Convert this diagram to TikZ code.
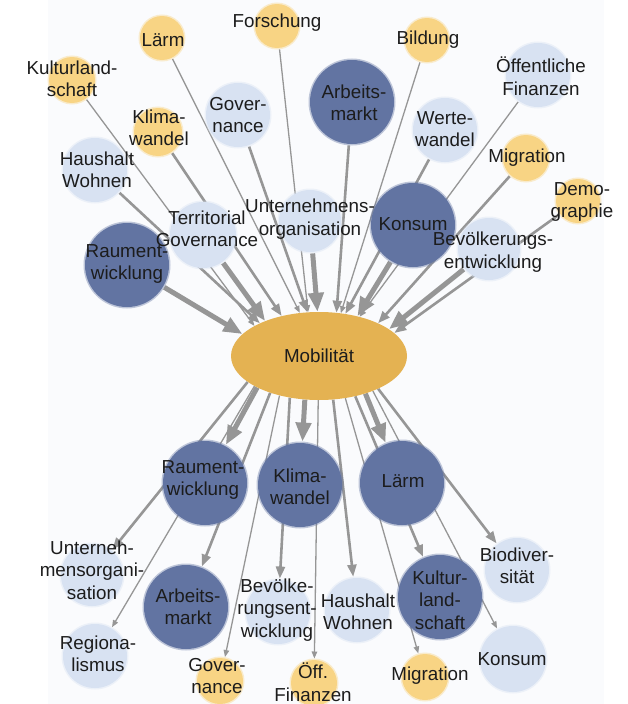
\documentclass[tikz,border=0pt]{standalone}
\usepackage{fontspec}
\setmainfont{Liberation Sans}
\usetikzlibrary{arrows.meta,shapes.geometric}

\definecolor{lnk}{RGB}{150,150,150}
\definecolor{mobgold}{RGB}{228,178,82}
\definecolor{sand}{RGB}{248,212,132}
\definecolor{navyblue}{RGB}{98,116,162}
\definecolor{mist}{RGB}{216,226,242}
\definecolor{haze}{RGB}{250,251,253}
\definecolor{ink}{RGB}{28,28,28}

\pgfdeclarelayer{bg}
\pgfdeclarelayer{links}
\pgfsetlayers{bg,links,main}

\newcommand\lblfont{\fontsize{18.8}{22.5}\selectfont}

\begin{document}
\begin{tikzpicture}[x=1pt,y=-1pt,
  bub/.style={circle, inner sep=0pt, minimum size=#1pt, line width=3pt, draw opacity=0.4},
  sandbub/.style={bub=#1, fill=sand, draw=sand},
  mistbub/.style={bub=#1, fill=mist, draw=mist},
  navybub/.style={bub=#1, fill=navyblue, draw=navyblue},
  lbl/.style={align=center, inner sep=0pt, text=ink, font=\lblfont},
  link/.style={draw=lnk, line cap=butt},
  thinlink/.style={link, line width=1.3pt, -{Triangle[length=7pt,width=5.5pt]}},
  midlink/.style={link, line width=2.6pt, -{Triangle[length=12pt,width=9pt]}},
  thicklink/.style={link, line width=5pt, -{Triangle[length=19pt,width=15pt]}}]

\useasboundingbox (0,0) rectangle (628,704);
\begin{pgfonlayer}{bg}
  \fill[haze] (48,0) rectangle (604,704);
\end{pgfonlayer}

% central node
\node[ellipse, fill=mobgold, minimum width=176pt, minimum height=88pt, inner sep=0pt,
      text=ink, font=\lblfont] (mob) at (319,356) {Mobilität};

% influences (upper half)
\node[sandbub=46] (tKult)  at (72,80)   {};
\node[sandbub=44] (tLaerm) at (162,38)  {};
\node[sandbub=44] (tForsch) at (277,26) {};
\node[sandbub=44] (tBild)  at (427,40)  {};
\node[sandbub=48] (tKlima) at (158,132) {};
\node[mistbub=64] (tGov)   at (238,115) {};
\node[navybub=84] (tArb)   at (352,102) {};
\node[mistbub=64] (tWerte) at (445,130) {};
\node[mistbub=64] (tFin)   at (538,75)  {};
\node[sandbub=46] (tMigr)  at (526,158) {};
\node[sandbub=44] (tDemo)  at (578,201) {};
\node[mistbub=64] (tHaus)  at (95,170)  {};
\node[mistbub=66] (tTerr)  at (203,235) {};
\node[mistbub=62] (tUnt)   at (310,221) {};
\node[navybub=84] (tKons)  at (413,225) {};
\node[mistbub=62] (tBev)   at (489,249) {};
\node[navybub=84] (tRaum)  at (127,265) {};

% effects (lower half)
\node[navybub=84] (bRaum)  at (205,483) {};
\node[navybub=84] (bKlima) at (300,485) {};
\node[navybub=84] (bLaerm) at (402,483) {};
\node[mistbub=62] (bUnt)   at (92,575)  {};
\node[mistbub=64] (bReg)   at (95,656)  {};
\node[navybub=84] (bArb)   at (186,607) {};
\node[sandbub=46] (bGov)   at (220,681) {};
\node[mistbub=64] (bBev)   at (278,612) {};
\node[sandbub=46] (bFin)   at (314,683) {};
\node[mistbub=64] (bHaus)  at (357,610) {};
\node[navybub=84] (bKult)  at (440,597) {};
\node[sandbub=46] (bMigr)  at (425,677) {};
\node[mistbub=64] (bBio)   at (517,570) {};
\node[mistbub=66] (bKons)  at (513,659) {};

% labels
\node[lbl] (tKultT)  at (72,79)   {Kulturland-\\schaft};
\node[lbl] (tLaermT) at (163,40)  {Lärm};
\node[lbl] (tForschT) at (277,23) {Forschung};
\node[lbl] (tBildT)  at (428,40)  {Bildung};
\node[lbl] (tKlimaT) at (159,128) {Klima-\\wandel};
\node[lbl] (tGovT)   at (238,115) {Gover-\\nance};
\node[lbl] (tArbT)   at (354,103) {Arbeits-\\markt};
\node[lbl] (tWerteT) at (445,129) {Werte-\\wandel};
\node[lbl] (tFinT)   at (541,76)  {Öffentliche\\Finanzen};
\node[lbl] (tMigrT)  at (527,158) {Migration};
\node[lbl] (tDemoT)  at (582,202) {Demo-\\graphie};
\node[lbl] (tHausT)  at (97,170)  {Haushalt\\Wohnen};
\node[lbl] (tTerrT)  at (207,229) {Territorial\\Governance};
\node[lbl] (tUntT)   at (310,219) {Unternehmens-\\organisation};
\node[lbl] (tKonsT)  at (413,224) {Konsum};
\node[lbl] (tBevT)   at (493,252) {Bevölkerungs-\\entwicklung};
\node[lbl] (tRaumT)  at (127,264) {Raument-\\wicklung};

\node[lbl] (bRaumT)  at (203,480) {Raument-\\wicklung};
\node[lbl] (bKlimaT) at (300,487) {Klima-\\wandel};
\node[lbl] (bLaermT) at (403,481) {Lärm};
\node[lbl] (bUntT)   at (92,570)  {Unterneh-\\mensorgani-\\sation};
\node[lbl] (bRegT)   at (98,654)  {Regiona-\\lismus};
\node[lbl] (bArbT)   at (188,607) {Arbeits-\\markt};
\node[lbl] (bGovT)   at (217,676) {Gover-\\nance};
\node[lbl] (bBevT)   at (277,610) {Bevölke-\\rungsent-\\wicklung};
\node[lbl] (bFinT)   at (313,682) {Öff.\\Finanzen};
\node[lbl] (bHausT)  at (358,612) {Haushalt\\Wohnen};
\node[lbl] (bKultT)  at (440,600) {Kultur-\\land-\\schaft};
\node[lbl] (bMigrT)  at (430,676) {Migration};
\node[lbl] (bBioT)   at (517,566) {Biodiver-\\sität};
\node[lbl] (bKonsT)  at (512,659) {Konsum};

\begin{pgfonlayer}{links}
  % incoming
  \draw[thinlink]  (tKult)   -- (mob.155);
  \draw[thinlink]  (tLaerm)  -- (mob.114);
  \draw[thinlink]  (tForsch) -- (mob.104);
  \draw[thinlink]  (tBild)   -- (mob.63);
  \draw[thinlink]  (tFin)    -- (mob.44);
  \draw[midlink]   (tKlima)  -- (mob.133);
  \draw[midlink]   (tGov)    -- (mob.105);
  \draw[midlink]   (tArb)    -- (mob.68);
  \draw[midlink]   (tWerte)  -- (mob.58);
  \draw[midlink]   (tMigr)   -- (mob.29);
  \draw[midlink]   (tDemo)   -- (mob.17);
  \draw[midlink]   (tHaus)   -- (mob.151);
  \draw[thicklink] (tTerr)   -- (mob.147);
  \draw[thicklink] (tUnt)    -- (mob.92);
  \draw[thicklink] (tKons)   -- (mob.46);
  \draw[thicklink] (tBev)    -- (mob.21);
  \draw[thicklink] (tRaum)   -- (mob.164);
  % outgoing
  \draw[thicklink] (mob.207) -- (bRaum);
  \draw[thicklink] (mob.252) -- (bKlima);
  \draw[thicklink] (mob.321) -- (bLaerm);
  \draw[midlink]   (mob.200) -- (bUnt);
  \draw[thinlink]  (mob.205) -- (bReg);
  \draw[midlink]   (mob.217) -- (bArb);
  \draw[thinlink]  (mob.225) -- (bGov);
  \draw[midlink]   (mob.235) -- (bBev);
  \draw[thinlink]  (mob.269) -- (bFin);
  \draw[midlink]   (mob.288) -- (bHaus);
  \draw[midlink]   (mob.312) -- (bKult);
  \draw[thinlink]  (mob.302) -- (bMigr);
  \draw[midlink]   (mob.331) -- (bBio);
  \draw[thinlink]  (mob.327) -- (bKons);
\end{pgfonlayer}
\end{tikzpicture}
\end{document}
